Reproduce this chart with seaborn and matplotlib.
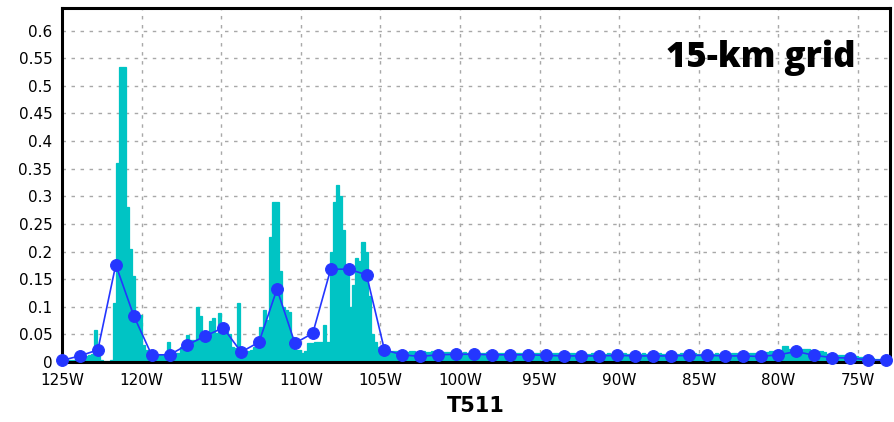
import numpy as np
import pandas as pd
import matplotlib
matplotlib.use("Agg")
import matplotlib.pyplot as plt
import seaborn as sns
from matplotlib.ticker import MultipleLocator, FuncFormatter

# fine grid (15-km) values, 0.2 deg bins starting at 125W
bar_step = 0.2
bar_vals = [
    0.0, 0.0, 0.003, 0.004, 0.005, 0.006, 0.008, 0.010, 0.012, 0.014,
    0.058, 0.012, 0.004, 0.002, 0.002, 0.003, 0.107, 0.36, 0.534, 0.534,
    0.28, 0.205, 0.155, 0.09, 0.085, 0.031, 0.022, 0.02, 0.012, 0.012,
    0.012, 0.012, 0.014, 0.037, 0.016, 0.016, 0.016, 0.028, 0.028, 0.048,
    0.04, 0.04, 0.10, 0.083, 0.046, 0.046, 0.075, 0.079, 0.052, 0.088,
    0.058, 0.055, 0.05, 0.028, 0.025, 0.106, 0.016, 0.016, 0.02, 0.022,
    0.028, 0.034, 0.064, 0.094, 0.076, 0.227, 0.29, 0.29, 0.164, 0.10,
    0.095, 0.091, 0.046, 0.022, 0.022, 0.016, 0.019, 0.035, 0.035, 0.037,
    0.037, 0.037, 0.067, 0.037, 0.2, 0.29, 0.32, 0.30, 0.239, 0.17,
    0.10, 0.14, 0.188, 0.183, 0.218, 0.20, 0.12, 0.05, 0.036, 0.028,
    0.022, 0.02, 0.019, 0.019, 0.019, 0.02, 0.019, 0.019, 0.018, 0.019,
    0.019, 0.018, 0.019, 0.019, 0.018, 0.018, 0.019, 0.018, 0.018, 0.018,
    0.018, 0.018, 0.017, 0.018, 0.018, 0.017, 0.018, 0.017, 0.017, 0.018,
    0.017, 0.017, 0.017, 0.018, 0.017, 0.017, 0.016, 0.017, 0.017, 0.016,
    0.017, 0.016, 0.017, 0.016, 0.016, 0.017, 0.016, 0.016, 0.016, 0.016,
    0.016, 0.016, 0.015, 0.016, 0.016, 0.016, 0.015, 0.016, 0.015, 0.016,
    0.016, 0.015, 0.015, 0.016, 0.015, 0.015, 0.016, 0.015, 0.015, 0.015,
    0.015, 0.016, 0.015, 0.015, 0.015, 0.015, 0.016, 0.015, 0.015, 0.015,
    0.015, 0.015, 0.016, 0.015, 0.015, 0.015, 0.015, 0.016, 0.015, 0.015,
    0.015, 0.016, 0.015, 0.015, 0.016, 0.015, 0.015, 0.015, 0.016, 0.015,
    0.015, 0.015, 0.016, 0.015, 0.015, 0.016, 0.015, 0.016, 0.016, 0.015,
    0.016, 0.016, 0.015, 0.016, 0.016, 0.016, 0.017, 0.016, 0.017, 0.017,
    0.018, 0.018, 0.019, 0.02, 0.022, 0.022, 0.029, 0.029, 0.023, 0.023,
    0.024, 0.023, 0.023, 0.024, 0.023, 0.022, 0.021, 0.019, 0.019, 0.018,
    0.014, 0.013, 0.013, 0.013, 0.013, 0.012, 0.013, 0.012, 0.012, 0.01,
    0.009, 0.0085, 0.008, 0.008, 0.007, 0.006, 0.005, 0.005, 0.004, 0.004,
]

# T511 values, 1.125 deg spacing from 125W
line_step = 1.125
line_vals = [
    0.003, 0.011, 0.022, 0.176, 0.084, 0.013, 0.013, 0.031, 0.047, 0.062,
    0.018, 0.036, 0.132, 0.034, 0.052, 0.168, 0.168, 0.158, 0.022, 0.013,
    0.010, 0.013, 0.014, 0.014, 0.013, 0.013, 0.013, 0.012, 0.011, 0.011,
    0.011, 0.012, 0.011, 0.011, 0.011, 0.012, 0.012, 0.011, 0.011, 0.010,
    0.013, 0.019, 0.012, 0.008, 0.007, 0.004, 0.003,
]

x_ticks = [-125, -120, -115, -110, -105, -100, -95, -90, -85, -80, -75]

lon0 = -125
bar_end = lon0 + bar_step * len(bar_vals)
bars = pd.DataFrame({"lon": lon0 + bar_step * (np.arange(len(bar_vals)) + 0.5),
                     "val": bar_vals})
line = pd.DataFrame({"lon": lon0 + line_step * np.arange(len(line_vals)),
                     "val": line_vals})

sns.set_style("white")
plt.rcParams['font.family'] = ['DejaVu Sans']

fig = plt.figure(figsize=(8.94, 4.22), dpi=100)
ax = fig.add_axes([0.0694, 0.1422, 0.926, 0.839])

cyan = "#00c4c4"
blue = "#2436ff"

sns.histplot(data=bars, x="lon", weights="val", binwidth=bar_step,
             binrange=(lon0, bar_end), color=cyan, alpha=1,
             edgecolor=cyan, linewidth=0.9, ax=ax)
sns.lineplot(data=line, x="lon", y="val", color=blue, linewidth=1.2,
             marker="o", markersize=8.5, markeredgecolor=blue,
             clip_on=False, zorder=5, ax=ax)

ax.set_xlim(-125, -73)
ax.set_ylim(0, 0.641)

ax.set_axisbelow(True)
ax.grid(True, color="#a8a8a8", linestyle=(0, (2.5, 4)), linewidth=1)

ax.xaxis.set_major_locator(plt.FixedLocator(x_ticks))
ax.xaxis.set_minor_locator(MultipleLocator(1))
ax.xaxis.set_major_formatter(FuncFormatter(lambda v, p: f"{abs(int(round(v)))}W"))
ax.yaxis.set_major_locator(MultipleLocator(0.05))
ax.yaxis.set_minor_locator(MultipleLocator(0.01))
ax.yaxis.set_major_formatter(FuncFormatter(lambda v, p: f"{v:.2f}".rstrip("0").rstrip(".") if v > 0 else "0"))
ax.grid(False, which="minor")

ax.tick_params(axis="both", which="major", direction="out", length=4,
               width=1.2, labelsize=11, colors="black", pad=3)
ax.tick_params(axis="both", which="minor", direction="out", length=2, width=1)
ax.tick_params(axis="x", which="major", pad=4)

for s in ax.spines.values():
    s.set_visible(True)
    s.set_color("black")
    s.set_linewidth(2.2)

ax.set_ylabel("")
ax.set_xlabel("T511", fontsize=15, fontweight="bold", color="black",
              labelpad=6)

ax.text(0.958, 0.833, "15-km grid", transform=ax.transAxes, ha="right",
        va="baseline", fontsize=25, fontweight="heavy", color="black",
        family=["Open Sans", "DejaVu Sans"])

fig.savefig("out.png", dpi=100)
